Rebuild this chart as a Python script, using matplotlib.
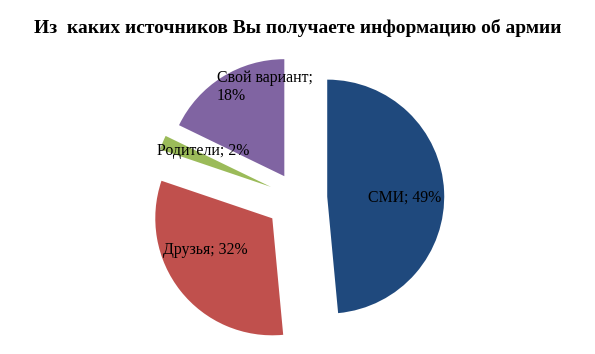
import matplotlib.pyplot as plt

plt.rcParams['font.family'] = ['Liberation Serif', 'DejaVu Serif']

# data
categories = ["СМИ", "Друзья", "Родители", "Свой вариант"]
shares = [49, 32, 2, 18]
label_texts = ["СМИ; 49%", "Друзья; 32%", "Родители; 2%", "Свой вариант;\n18%"]
colors = ['#1F497D', '#C0504D', '#9BBB59', '#8064A2']

# layout: explode per slice, label anchors relative to each wedge centre (radius units)
explode = [0.25, 0.28, 0.25, 0.22]
label_offsets = [(0.665, -0.01), (-0.575, -0.27), (-0.58, 0.31), (-0.17, 0.76)]

fig = plt.figure(figsize=(5.95, 3.54), dpi=100)
ax = fig.add_axes([0, 0, 1, 1])

r_px = 117
cx, cy = 298, 198
wedges, _ = ax.pie(shares, colors=colors, startangle=90, counterclock=False,
                   explode=explode, radius=1,
                   wedgeprops=dict(linewidth=0), center=(0, 0))

for w, txt, (dx, dy) in zip(wedges, label_texts, label_offsets):
    x0, y0 = w.center
    ax.text(x0 + dx, y0 + dy, txt, ha='center', va='center',
            multialignment='left', fontsize=11.4, color='black')

ax.set_xlim(-cx / r_px, (595 - cx) / r_px)
ax.set_ylim(-(354 - cy) / r_px, cy / r_px)
ax.axis('off')

fig.text(0.5, 1 - 28 / 354, "Из  каких источников Вы получаете информацию об армии",
         ha='center', va='center', fontsize=14, fontweight='bold')

fig.savefig('out.png', dpi=100)
